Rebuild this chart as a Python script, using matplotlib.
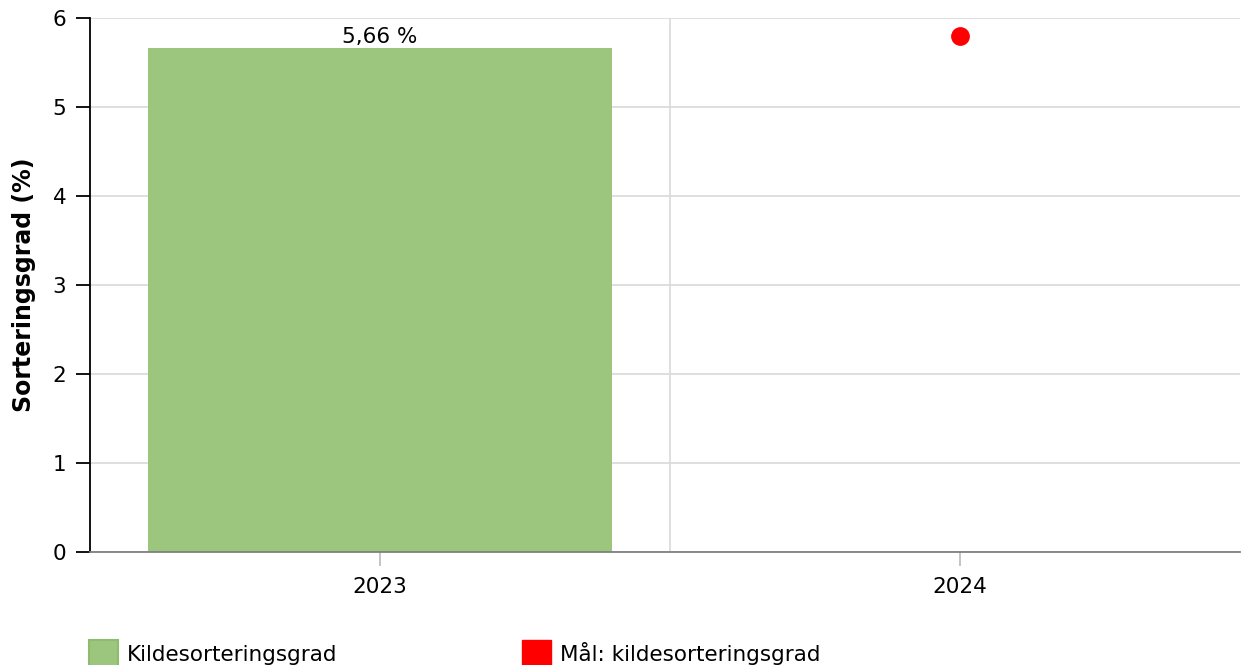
import matplotlib
matplotlib.use("Agg")
import matplotlib.pyplot as plt
from matplotlib.patches import Patch

years = ["2023", "2024"]
sortering = [5.66, None]
maal = [None, 5.8]
bar_labels = ["5,66 %", ""]

plt.rcParams['font.family'] = ['DejaVu Sans']
plt.rcParams['font.size'] = 15.5

fig = plt.figure(figsize=(12.41, 6.65), dpi=100)
ax = fig.add_axes([90/1241, 113/665, 1150/1241, 534/665])

green = '#9cc57e'
red = '#ff0000'

x = list(range(len(years)))
bx = [i for i, v in zip(x, sortering) if v is not None]
bv = [v for v in sortering if v is not None]
bars = ax.bar(bx, bv, width=0.8, color=green, zorder=3)
for rect, lab in zip(bars, bar_labels):
    ax.text(rect.get_x() + rect.get_width()/2, rect.get_height() + 0.01, lab,
            ha='center', va='bottom', fontsize=15.5, zorder=4)

mx = [i for i, v in zip(x, maal) if v is not None]
mv = [v for v in maal if v is not None]
ax.plot(mx, mv, 'o', color=red, markersize=12.5, zorder=5, clip_on=False)

ax.set_ylim(0, 6)
ax.set_xlim(-0.5, 1.483)
ax.set_yticks(range(7))
ax.set_xticks(x)
ax.set_xticklabels(years)

# grid
ax.grid(axis='y', color='#d9d9d9', linewidth=1.2, zorder=0)
ax.axvline(0.5, color='#d9d9d9', linewidth=1.2, zorder=0)

for s in ['top', 'right']:
    ax.spines[s].set_visible(False)
ax.spines['left'].set_color('black')
ax.spines['left'].set_linewidth(1.3)
ax.spines['bottom'].set_color('#808080')
ax.spines['bottom'].set_linewidth(1.3)
ax.spines['bottom'].set_zorder(4)

ax.tick_params(axis='y', length=10, width=1.3, color='black', pad=7, labelsize=15.5)
ax.tick_params(axis='x', length=10, width=1.3, color='#bfbfbf', pad=8, labelsize=15.5)

ax.set_ylabel("Sorteringsgrad (%)", fontsize=17, fontweight='bold', labelpad=12)

handles = [Patch(facecolor=green, edgecolor='#8fbb6f', linewidth=1.5),
           Patch(facecolor=red, edgecolor=red)]
fig.legend(handles, ["Kildesorteringsgrad", "Mål: kildesorteringsgrad"],
           loc='upper left', bbox_to_anchor=(89/1241, 1 - 640/665), ncol=2,
           frameon=False, borderpad=0, borderaxespad=0,
           handlelength=1.35, handleheight=1.6, handletextpad=0.4,
           columnspacing=8.6, fontsize=15.5)

fig.savefig("out.png", dpi=100)
